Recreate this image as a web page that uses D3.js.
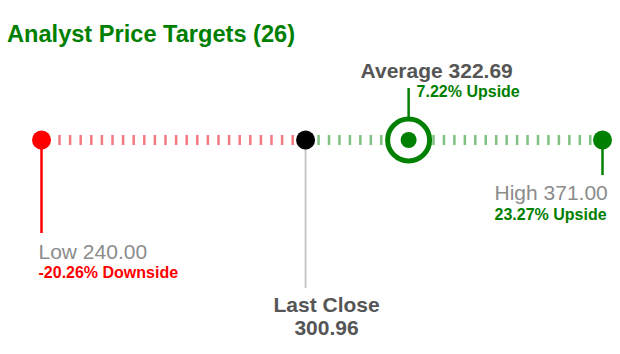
<!DOCTYPE html>
<html lang="en">
<head>
<meta charset="UTF-8">
<title>Analyst Price Targets</title>
<script src="https://d3js.org/d3.v7.min.js"></script>
<style>
  body { margin: 0; background: #fff; }
  text { font-family: "Liberation Sans", Arial, sans-serif; }
</style>
</head>
<body>
<div id="chart"></div>

<script>
// Values
const analystCount = 26;
const lowTarget = 240.00;
const highTarget = 371.00;
const averageTarget = 322.69;
const lastClose = 300.96;
const lowUpside = "-20.26%";
const avgUpside = "7.22%";
const highUpside = "23.27%";

const width = 620, height = 354;
const lineY = 140;
const dotR = 9.5, ringOuter = 23.5;

const svg = d3.select("#chart").append("svg")
  .attr("width", width)
  .attr("height", height);

// Markers are placed by their left edge, like the original widget
const x = d3.scaleLinear()
  .domain([lowTarget, highTarget])
  .range([32, 593]);

const lowX = x(lowTarget) + dotR;
const highX = x(highTarget) + dotR;
const closeX = x(lastClose) + dotR + 3;
const avgX = x(averageTarget) + ringOuter - 1;

// Title
svg.append("text")
  .attr("x", 7)
  .attr("y", 42)
  .attr("fill", "#008000")
  .style("font-size", "23.6px")
  .style("font-weight", "bold")
  .text(`Analyst Price Targets (${analystCount})`);

// Dashed ticks along the bar
function tickRow(x0, x1, step, color) {
  svg.append("g").selectAll("rect")
    .data(d3.range(x0, x1, step))
    .enter().append("rect")
    .attr("x", d => d - 1.25)
    .attr("y", lineY - 5)
    .attr("width", 2.5)
    .attr("height", 10)
    .attr("fill", color);
}
tickRow(lowX + 18, closeX - 8, 10.6, "#f47a82");
tickRow(closeX + 13, highX - 8, 10.45, "#80c080");

// Stems
svg.append("line")
  .attr("x1", lowX).attr("x2", lowX)
  .attr("y1", lineY).attr("y2", 233)
  .attr("stroke", "#ff0000").attr("stroke-width", 2.5);

svg.append("line")
  .attr("x1", closeX).attr("x2", closeX)
  .attr("y1", lineY).attr("y2", 288)
  .attr("stroke", "#c8c8c8").attr("stroke-width", 2);

svg.append("line")
  .attr("x1", highX).attr("x2", highX)
  .attr("y1", lineY).attr("y2", 175)
  .attr("stroke", "#008000").attr("stroke-width", 2.5);

svg.append("line")
  .attr("x1", avgX).attr("x2", avgX)
  .attr("y1", 88).attr("y2", lineY - ringOuter + 2)
  .attr("stroke", "#008000").attr("stroke-width", 2.5);

// Dots
svg.append("circle").attr("cx", lowX).attr("cy", lineY).attr("r", dotR).attr("fill", "#ff0000");
svg.append("circle").attr("cx", closeX).attr("cy", lineY).attr("r", dotR).attr("fill", "#000");
svg.append("circle").attr("cx", highX).attr("cy", lineY).attr("r", dotR).attr("fill", "#008000");

// Average ring
svg.append("circle")
  .attr("cx", avgX).attr("cy", lineY)
  .attr("r", ringOuter - 2.5)
  .attr("fill", "#fff")
  .attr("stroke", "#008000")
  .attr("stroke-width", 5);
svg.append("circle").attr("cx", avgX).attr("cy", lineY).attr("r", 8).attr("fill", "#008000");

// Labels
function label(xp, yp, txt, size, weight, color, anchor) {
  svg.append("text")
    .attr("x", xp).attr("y", yp)
    .attr("fill", color)
    .attr("text-anchor", anchor || "start")
    .style("font-size", size + "px")
    .style("font-weight", weight)
    .text(txt);
}

label(avgX - 48, 78, `Average ${averageTarget.toFixed(2)}`, 21, "bold", "#555");
label(avgX + 8, 97, `${avgUpside} Upside`, 16, "bold", "#008000");

label(lowX - 3, 259, `Low ${lowTarget.toFixed(2)}`, 21, "normal", "#8c8c8c");
label(lowX - 3, 278, `${lowUpside} Downside`, 16, "bold", "#ff0000");

label(highX - 108, 200, `High ${highTarget.toFixed(2)}`, 21, "normal", "#8c8c8c");
label(highX - 108, 220, `${highUpside} Upside`, 16, "bold", "#008000");

label(closeX + 21, 311.5, "Last Close", 21, "bold", "#555", "middle");
label(closeX + 21, 335, lastClose.toFixed(2), 21, "bold", "#555", "middle");
</script>
</body>
</html>
